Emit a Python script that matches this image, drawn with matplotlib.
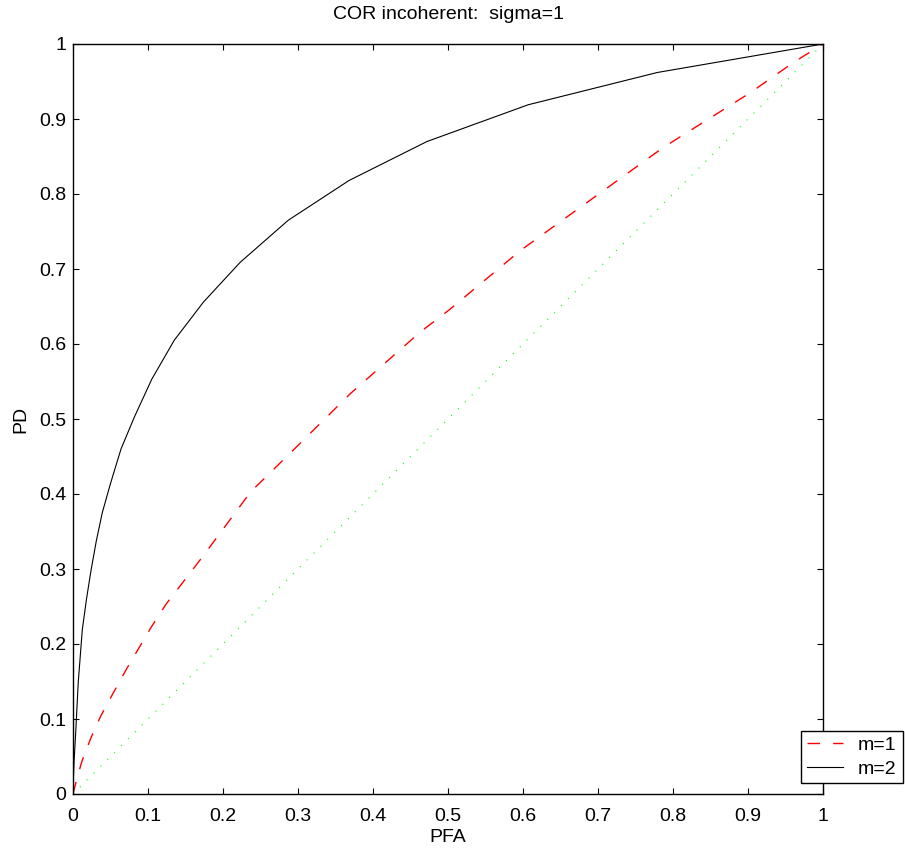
import numpy as np
import matplotlib
matplotlib.use("Agg")
import matplotlib.pyplot as plt

plt.rcParams['font.family'] = ['Liberation Sans', 'DejaVu Sans']

# m=1 curve (red dashed)
pfa_m1 = [0, 0.005, 0.012, 0.024, 0.037, 0.050, 0.071, 0.104, 0.124, 0.174, 0.237, 0.287, 0.370, 0.463, 0.501, 0.597, 0.787, 0.903, 0.960, 1.0]
pd_m1 = [0, 0.020, 0.044, 0.075, 0.104, 0.128, 0.166, 0.222, 0.253, 0.318, 0.403, 0.452, 0.534, 0.616, 0.645, 0.725, 0.862, 0.935, 0.975, 1.0]

# m=2 curve (black solid)
pfa_m2 = [0, 0.0005, 0.0015, 0.0036, 0.007, 0.0124, 0.018, 0.024, 0.031, 0.039, 0.050, 0.064, 0.082, 0.105, 0.135, 0.174, 0.223, 0.287, 0.368, 0.472, 0.607, 0.779, 1.0]
pd_m2 = [0, 0.020, 0.045, 0.082, 0.149, 0.219, 0.260, 0.298, 0.337, 0.375, 0.414, 0.460, 0.503, 0.553, 0.605, 0.656, 0.709, 0.765, 0.818, 0.870, 0.919, 0.962, 1.0]

# chance line
diag = [0, 1]

ticks = [0, 0.1, 0.2, 0.3, 0.4, 0.5, 0.6, 0.7, 0.8, 0.9, 1]
tick_labels = ["0", "0.1", "0.2", "0.3", "0.4", "0.5", "0.6", "0.7", "0.8", "0.9", "1"]

fig = plt.figure(figsize=(9.05, 8.48), dpi=100)
ax = fig.add_axes([73 / 905, 54 / 848, 750 / 905, 750 / 848])

ax.plot(diag, diag, color="#00ff00", lw=0.8, linestyle=(0, (1, 7.75)))
l1, = ax.plot(pfa_m1, pd_m1, color="#ff0000", lw=1.0, linestyle=(0, (9, 9.5)), label="m=1")
l2, = ax.plot(pfa_m2, pd_m2, color="black", lw=0.8, label="m=2")

ax.set_xlim(0, 1)
ax.set_ylim(0, 1)
ax.set_xticks(ticks)
ax.set_xticklabels(tick_labels)
ax.set_yticks(ticks)
ax.set_yticklabels(tick_labels)
ax.tick_params(direction="in", length=4.5, width=0.8, top=True, right=True, labelsize=14)
ax.tick_params(axis="x", pad=10)
ax.tick_params(axis="y", pad=5)
for s in ax.spines.values():
    s.set_linewidth(1.0)

ax.set_title("COR incoherent:  sigma=1", fontsize=14, pad=18)
ax.set_xlabel("PFA", fontsize=14, labelpad=3)
ax.set_ylabel("PD", fontsize=14, labelpad=7)

leg = ax.legend(handles=[l1, l2], loc="upper left", bbox_to_anchor=(800.7 / 905, (848 - 730.7) / 848),
                bbox_transform=fig.transFigure, borderaxespad=0, fontsize=14, handlelength=1.9,
                fancybox=False, framealpha=1, edgecolor="black", borderpad=0.3, labelspacing=0.3,
                handletextpad=0.75)
leg.get_frame().set_linewidth(1.0)

fig.savefig("out.png", dpi=100)
